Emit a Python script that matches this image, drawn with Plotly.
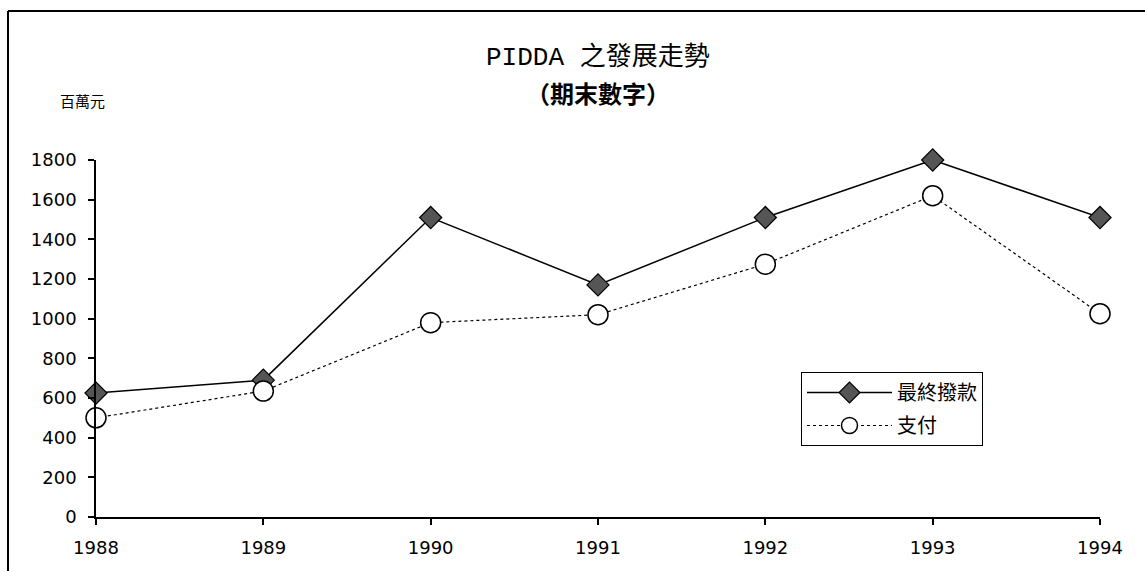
import plotly.graph_objects as go

years = [1988, 1989, 1990, 1991, 1992, 1993, 1994]
appropriation = [625, 690, 1510, 1170, 1510, 1800, 1510]
payment = [500, 635, 980, 1020, 1275, 1620, 1025]
y_ticks = [0, 200, 400, 600, 800, 1000, 1200, 1400, 1600, 1800]

W, H = 1145, 571
L, R, T, B = 96, 45, 160, 54
pw, ph = W - L - R, H - T - B

def px(x):
    return (x - L) / pw

def py(y):
    return (H - B - y) / ph

fig = go.Figure()
fig.add_trace(go.Scatter(
    x=years, y=appropriation, name="最終撥款", mode="lines+markers",
    legendgroup="a",
    line=dict(color="black", width=1.5),
    marker=dict(symbol="diamond", size=17, color="#555555",
                line=dict(color="black", width=1.2)),
    cliponaxis=False,
))
fig.add_trace(go.Scatter(
    x=years, y=payment, name="支付", mode="lines+markers",
    legendgroup="b",
    line=dict(color="black", width=1.2, dash="dot"),
    marker=dict(symbol="circle", size=20, color="white",
                line=dict(color="black", width=1.5)),
    cliponaxis=False,
))

tickfont = dict(family="DejaVu Sans, Liberation Sans, sans-serif", size=18, color="black")
fig.update_layout(
    width=W, height=H,
    margin=dict(l=L, r=R, t=T, b=B),
    paper_bgcolor="white", plot_bgcolor="white",
    showlegend=True,
    legend=dict(
        x=px(801), y=py(372), xanchor="left", yanchor="top",
        bordercolor="black", borderwidth=1, bgcolor="white",
        font=dict(family="Noto Sans CJK TC", size=20, color="black"),
        itemwidth=85, tracegroupgap=4,
    ),
    xaxis=dict(
        range=[1988, 1994], tickvals=years, ticktext=[str(y) for y in years],
        showgrid=False, zeroline=False, showline=True, linecolor="black", linewidth=1.5,
        ticks="outside", ticklen=6, tickcolor="black", tickwidth=1.5,
        tickfont=tickfont, ticklabelstandoff=8,
    ),
    yaxis=dict(
        range=[0, 1800], tickvals=y_ticks,
        showgrid=False, zeroline=False, showline=True, linecolor="black", linewidth=1.5,
        ticks="outside", ticklen=6, tickcolor="black", tickwidth=1.5,
        tickfont=tickfont, ticklabelstandoff=8,
    ),
    font=dict(family="Noto Sans CJK TC", color="black"),
)

fig.add_annotation(
    x=0.5, y=py(54), xref="paper", yref="paper", showarrow=False,
    xanchor="center", yanchor="middle",
    text="<span style='font-family:Liberation Mono'>PIDDA </span>之發展走勢",
    font=dict(family="Noto Sans CJK TC", size=26, color="black"),
)
fig.add_annotation(
    x=0.5, y=py(92), xref="paper", yref="paper", showarrow=False,
    xanchor="center", yanchor="middle",
    text="<b>（期末數字）</b>",
    font=dict(family="Noto Sans CJK TC", size=24, color="black"),
)
fig.add_annotation(
    x=px(58), y=py(101), xref="paper", yref="paper", showarrow=False,
    xanchor="left", yanchor="middle", text="百萬元",
    font=dict(family="Noto Sans CJK TC", size=15, color="black"),
)

# outer frame (top and left edges)
fig.add_shape(type="line", xref="paper", yref="paper",
              x0=px(8), x1=px(W), y0=py(11), y1=py(11),
              line=dict(color="black", width=2))
fig.add_shape(type="line", xref="paper", yref="paper",
              x0=px(8), x1=px(8), y0=py(11), y1=py(H),
              line=dict(color="black", width=2))

fig.write_html("out.html", config={"displayModeBar": False},
               post_script="document.body.style.margin='0px';")
